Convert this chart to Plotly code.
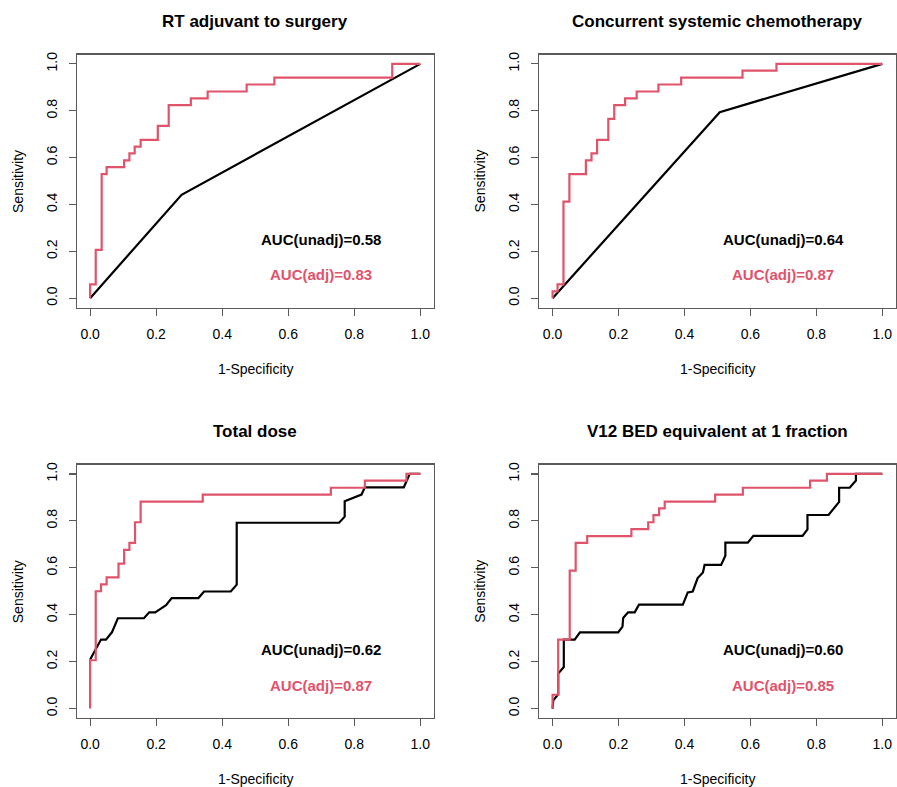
import plotly.graph_objects as go

RED = "#DF536B"
FRAME = "#5a5a5a"
FONT = "Liberation Sans, Arial, sans-serif"

titles = ["RT adjuvant to surgery", "Concurrent systemic chemotherapy",
          "Total dose", "V12 BED equivalent at 1 fraction"]
auc_unadj = ["0.58", "0.64", "0.62", "0.60"]
auc_adj = ["0.83", "0.87", "0.87", "0.85"]
tick_vals = [0.0, 0.2, 0.4, 0.6, 0.8, 1.0]
tick_text = ["0.0", "0.2", "0.4", "0.6", "0.8", "1.0"]

# Adjusted ROC curves (step points, drawn vertical-then-horizontal)
adj1_fpr = [0, 0.017, 0.035, 0.050, 0.103, 0.119, 0.135, 0.153, 0.205, 0.238, 0.305, 0.356, 0.474, 0.558, 0.915, 1.0]
adj1_tpr = [0, 0.059, 0.206, 0.529, 0.559, 0.588, 0.618, 0.647, 0.676, 0.735, 0.824, 0.853, 0.882, 0.912, 0.941, 1.0]
adj2_fpr = [0, 0.015, 0.033, 0.051, 0.101, 0.118, 0.135, 0.169, 0.187, 0.220, 0.255, 0.321, 0.390, 0.576, 0.679, 1.0]
adj2_tpr = [0, 0.029, 0.059, 0.412, 0.529, 0.588, 0.618, 0.676, 0.765, 0.824, 0.853, 0.882, 0.912, 0.941, 0.971, 1.0]
adj3_fpr = [0, 0.017, 0.033, 0.050, 0.086, 0.103, 0.119, 0.136, 0.153, 0.341, 0.729, 0.832, 0.958, 1.0]
adj3_tpr = [0, 0.206, 0.500, 0.529, 0.559, 0.618, 0.676, 0.706, 0.794, 0.882, 0.912, 0.941, 0.971, 1.0]
adj4_fpr = [0, 0.017, 0.052, 0.070, 0.105, 0.239, 0.290, 0.306, 0.323, 0.340, 0.493, 0.577, 0.781, 0.832, 1.0]
adj4_tpr = [0, 0.059, 0.294, 0.588, 0.706, 0.735, 0.765, 0.794, 0.824, 0.853, 0.882, 0.912, 0.941, 0.971, 1.0]

# Unadjusted ROC curves (points joined by straight segments)
un1_fpr = [0, 0.277, 1.0]
un1_tpr = [0, 0.441, 1.0]
un2_fpr = [0, 0.507, 1.0]
un2_tpr = [0, 0.794, 1.0]
un3_fpr = [0, 0.017, 0.033, 0.048, 0.066, 0.084, 0.163, 0.179, 0.197, 0.212,
           0.230, 0.247, 0.328, 0.345, 0.426, 0.444, 0.444, 0.754, 0.771, 0.771,
           0.788, 0.822, 0.832, 0.950, 0.968, 1.0]
un3_tpr = [0.209, 0.255, 0.294, 0.294, 0.325, 0.385, 0.385, 0.410, 0.410, 0.424,
           0.441, 0.471, 0.471, 0.499, 0.499, 0.528, 0.792, 0.792, 0.818, 0.884,
           0.894, 0.912, 0.943, 0.943, 1.0, 1.0]
un4_fpr = [0, 0.002, 0.017, 0.017, 0.034, 0.034, 0.067, 0.083, 0.199, 0.212,
           0.214, 0.229, 0.249, 0.262, 0.395, 0.410, 0.425, 0.440, 0.456, 0.461,
           0.511, 0.524, 0.524, 0.592, 0.609, 0.758, 0.773, 0.773, 0.837, 0.869,
           0.869, 0.901, 0.920, 0.920, 1.0]
un4_tpr = [0, 0.035, 0.061, 0.149, 0.177, 0.294, 0.294, 0.325, 0.325, 0.349,
           0.386, 0.410, 0.410, 0.443, 0.443, 0.495, 0.499, 0.556, 0.580, 0.612,
           0.612, 0.651, 0.707, 0.707, 0.736, 0.736, 0.764, 0.825, 0.825, 0.881,
           0.941, 0.941, 0.972, 1.0, 1.0]

adj = [(adj1_fpr, adj1_tpr), (adj2_fpr, adj2_tpr), (adj3_fpr, adj3_tpr), (adj4_fpr, adj4_tpr)]
unadj = [(un1_fpr, un1_tpr), (un2_fpr, un2_tpr), (un3_fpr, un3_tpr), (un4_fpr, un4_tpr)]

W, H = 897, 787
# plot boxes in pixels (left, right, top, bottom)
boxes = [(77, 434, 51.7, 305.7), (540, 896.5, 51.7, 305.7),
         (77, 434, 463.3, 717.7), (540, 896.5, 463.3, 717.7)]

fig = go.Figure()
layout = dict(width=W, height=H, margin=dict(l=0, r=0, t=0, b=0), autosize=False,
              plot_bgcolor="white", paper_bgcolor="white", showlegend=False,
              font=dict(family=FONT, size=14, color="black"))
annotations = []

for i in range(4):
    l, r, t, b = boxes[i]
    xa = "xaxis" if i == 0 else f"xaxis{i+1}"
    ya = "yaxis" if i == 0 else f"yaxis{i+1}"
    xref = "x" if i == 0 else f"x{i+1}"
    yref = "y" if i == 0 else f"y{i+1}"
    axcommon = dict(range=[-0.04, 1.04], tickvals=tick_vals, ticktext=tick_text,
                    ticks="outside", ticklen=7, tickwidth=1.2, tickcolor=FRAME,
                    showline=True, linecolor=FRAME, linewidth=1.4, mirror=True,
                    showgrid=False, zeroline=False, fixedrange=True,
                    tickfont=dict(family=FONT, size=14, color="black"),
                    ticklabelstandoff=6)
    layout[xa] = dict(domain=[l / W, r / W], anchor=yref, **axcommon)
    layout[ya] = dict(domain=[1 - b / H, 1 - t / H], anchor=xref, tickangle=-90, **axcommon)

    ux, uy = unadj[i]
    fig.add_trace(go.Scatter(x=ux, y=uy, mode="lines", xaxis=xref, yaxis=yref,
                             line=dict(color="black", width=2.2), hoverinfo="skip"))
    axx, axy = adj[i]
    fig.add_trace(go.Scatter(x=axx, y=axy, mode="lines", xaxis=xref, yaxis=yref,
                             line=dict(color=RED, width=2.2, shape="vh"), hoverinfo="skip"))

    annotations.append(dict(x=0.7, y=0.25, xref=xref, yref=yref, showarrow=False,
                            text=f"<b>AUC(unadj)={auc_unadj[i]}</b>",
                            font=dict(family=FONT, size=15, color="black")))
    annotations.append(dict(x=0.7, y=0.1, xref=xref, yref=yref, showarrow=False,
                            text=f"<b>AUC(adj)={auc_adj[i]}</b>",
                            font=dict(family=FONT, size=15, color=RED)))
    cx = (l + r) / 2
    annotations.append(dict(x=cx / W, y=1 - (t - 33.4) / H, xref="paper", yref="paper",
                            showarrow=False, text=f"<b>{titles[i]}</b>",
                            xanchor="center", yanchor="middle",
                            font=dict(family=FONT, size=17, color="black")))
    annotations.append(dict(x=cx / W, y=1 - (b + 61.3) / H, xref="paper", yref="paper",
                            showarrow=False, text="1-Specificity",
                            xanchor="center", yanchor="middle",
                            font=dict(family=FONT, size=14, color="black")))
    annotations.append(dict(x=(l - 59) / W, y=1 - ((t + b) / 2) / H, xref="paper", yref="paper",
                            showarrow=False, text="Sensitivity", textangle=-90,
                            xanchor="center", yanchor="middle",
                            font=dict(family=FONT, size=14, color="black")))

layout["annotations"] = annotations
fig.update_layout(**layout)
fig.write_html("out.html", config={"displayModeBar": False, "staticPlot": True},
               post_script="document.body.style.margin='0';document.body.style.padding='0';document.body.style.overflow='hidden';")
